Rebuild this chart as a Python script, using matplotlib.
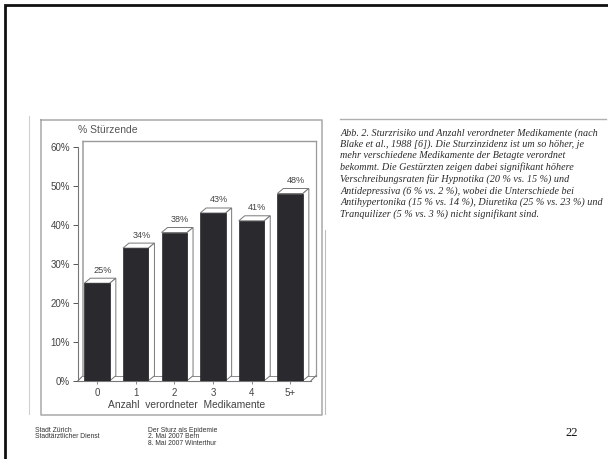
import matplotlib
matplotlib.use("Agg")
import matplotlib.pyplot as plt
from matplotlib.patches import Polygon

W, H = 608, 459
categories = ["0", "1", "2", "3", "4", "5+"]
values = [25, 34, 38, 43, 41, 48]
value_labels = ["25%", "34%", "38%", "43%", "41%", "48%"]
y_ticks = [0, 10, 20, 30, 40, 50, 60]
y_tick_labels = ["0%", "10%", "20%", "30%", "40%", "50%", "60%"]
caption = [
    "Abb. 2. Sturzrisiko und Anzahl verordneter Medikamente (nach",
    "Blake et al., 1988 [6]). Die Sturzinzidenz ist um so höher, je",
    "mehr verschiedene Medikamente der Betagte verordnet",
    "bekommt. Die Gestürzten zeigen dabei signifikant höhere",
    "Verschreibungsraten für Hypnotika (20 % vs. 15 %) und",
    "Antidepressiva (6 % vs. 2 %), wobei die Unterschiede bei",
    "Antihypertonika (15 % vs. 14 %), Diuretika (25 % vs. 23 %) und",
    "Tranquilizer (5 % vs. 3 %) nicht signifikant sind.",
]

plt.rcParams["font.family"] = ["Liberation Sans", "DejaVu Sans"]
fig = plt.figure(figsize=(W / 100, H / 100), dpi=100, facecolor="white")

page = fig.add_axes([0, 0, 1, 1], zorder=0)
page.set_xlim(0, W)
page.set_ylim(H, 0)
page.axis("off")
page.plot([5, 5, W], [H, 5, 5], color="#111111", lw=2.0, solid_joinstyle="miter")
grey = "#a8a8a8"
page.plot([40.5, 40.5, 322, 322, 40.5], [120, 414.5, 414.5, 120, 120], color=grey, lw=1.1)
page.plot([29, 29], [116, 414], color="#cfcfcf", lw=0.8)
page.plot([324.5, 324.5], [230, 414], color="#bdbdbd", lw=0.8)
page.plot([340, W - 2], [119, 119], color="#b0b0b0", lw=1.0)

for i, line in enumerate(caption):
    page.text(340.5, 132.7 + i * 11.6, line, family=["Liberation Serif"], style="italic",
              fontsize=7.3, color="#2a2a2a", va="center", ha="left")

page.text(34.7, 430, "Stadt Zürich", fontsize=4.85, color="#333333", va="center")
page.text(34.7, 436.7, "Stadtärztlicher Dienst", fontsize=4.85, color="#333333", va="center")
page.text(148.3, 430, "Der Sturz als Epidemie", fontsize=4.85, color="#333333", va="center")
page.text(148.3, 436.7, "2. Mai 2007 Bern", fontsize=4.85, color="#333333", va="center")
page.text(148.3, 443.3, "8. Mai 2007 Winterthur", fontsize=4.85, color="#333333", va="center")
page.text(572, 432.5, "22", family=["Liberation Serif"], fontsize=9, color="#111111", va="center", ha="center")

x0, x1, y_bot, y_top = 78, 316, 380.7, 146.7
ax = fig.add_axes([x0 / W, 1 - y_bot / H, (x1 - x0) / W, (y_bot - y_top) / H], zorder=1)
ax.patch.set_alpha(0)
step = 38.6
ax.set_xlim(-(97.1 - x0) / step, (x1 - 97.1) / step)
ax.set_ylim(0, 60)
for s in ("top", "right", "bottom"):
    ax.spines[s].set_visible(False)
ax.spines["left"].set_color("#777777")
ax.spines["left"].set_linewidth(0.8)
ax.set_xticks(range(len(categories)))
ax.set_xticklabels(categories, fontsize=7, color="#444444")
ax.set_yticks(y_ticks)
ax.set_yticklabels(y_tick_labels, fontsize=7, color="#444444")
ax.tick_params(axis="y", length=3.6, width=0.7, color="#555555", pad=2)
ax.tick_params(axis="x", length=2, width=0.6, color="#777777", pad=3.5)

dx = 6 / step
dy = 5 / ((y_bot - y_top) / 60)
edge = "#777777"
xl = ax.get_xlim()
ax.plot([xl[0], xl[0] + 5 / step, xl[0] + 5 / step], [0, dy, 61.4], color=edge, lw=0.8, clip_on=False)
ax.plot([xl[0] + 5 / step, xl[1]], [61.4, 61.4], color="#999999", lw=1.0, clip_on=False)
ax.plot([xl[1], xl[1]], [61.4, dy], color="#999999", lw=0.9, clip_on=False)
ax.plot([xl[0], xl[1] - 5 / step], [0, 0], color=edge, lw=0.8, clip_on=False)
ax.plot([xl[1] - 5 / step, xl[1]], [0, dy], color=edge, lw=0.8, clip_on=False)
ax.plot([xl[0] + 5 / step, xl[1]], [dy, dy], color=edge, lw=0.6, clip_on=False)

w = 0.66
for i, v in enumerate(values):
    l, r = i - w / 2, i + w / 2
    ax.add_patch(Polygon([(l, v), (r, v), (r + dx, v + dy), (l + dx, v + dy)], fc="white", ec=edge, lw=0.7, zorder=3))
    ax.add_patch(Polygon([(r, 0), (r + dx, dy), (r + dx, v + dy), (r, v)], fc="white", ec=edge, lw=0.7, zorder=3))
    ax.bar(i, v, width=w, color="#2a2a2e", edgecolor="#2a2a2e", linewidth=0.5, zorder=4)
    ax.text(i + 0.15, v + dy + 0.9, value_labels[i], ha="center", va="bottom",
            fontsize=6.6, color="#444444", zorder=5)

page.text(107.5, 130, "% Stürzende", fontsize=7.5, color="#555555", va="center", ha="center", zorder=5)
page.text(187, 405, "Anzahl  verordneter  Medikamente", fontsize=7.4, color="#444444", va="center", ha="center")

fig.savefig("out.png", dpi=100)
